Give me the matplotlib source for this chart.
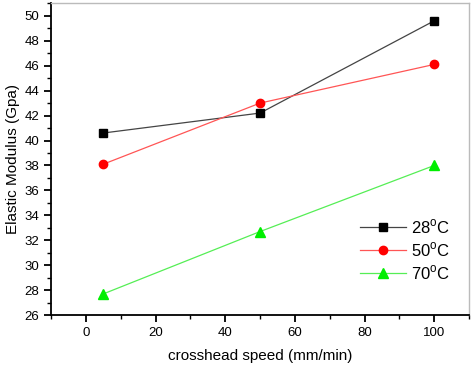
import matplotlib
matplotlib.use("Agg")
import matplotlib.pyplot as plt
from matplotlib.ticker import MultipleLocator

plt.rcParams['font.family'] = ['Liberation Sans', 'DejaVu Sans']
plt.rcParams['mathtext.fontset'] = 'custom'
plt.rcParams['mathtext.rm'] = 'Liberation Sans'

speed = [5, 50, 100]
e28 = [40.6, 42.2, 49.6]
e50 = [38.1, 43.0, 46.1]
e70 = [27.7, 32.7, 38.0]
labels = ['28$^{\\mathrm{o}}$C', '50$^{\\mathrm{o}}$C', '70$^{\\mathrm{o}}$C']

fig = plt.figure(figsize=(4.72, 3.66), dpi=100)
ax = fig.add_axes([0.108, 0.139, 0.886, 0.852])

ax.plot(speed, e28, color='#444444', lw=0.9, marker='s', ms=5.5, mfc='black', mec='black', label=labels[0])
ax.plot(speed, e50, color='#ff5555', lw=0.9, marker='o', ms=6, mfc='red', mec='red', label=labels[1])
ax.plot(speed, e70, color='#55ee55', lw=0.9, marker='^', ms=6.5, mfc='#00ee00', mec='#00ee00', label=labels[2])

ax.set_xlim(-10, 110)
ax.set_ylim(26, 51)
ax.xaxis.set_major_locator(MultipleLocator(20))
ax.xaxis.set_minor_locator(MultipleLocator(10))
ax.yaxis.set_major_locator(MultipleLocator(2))
ax.yaxis.set_minor_locator(MultipleLocator(1))
ax.tick_params(which='major', direction='out', length=5, width=1.3, labelsize=9.5)
ax.tick_params(which='minor', direction='out', length=3, width=1)
for s in ['left', 'bottom']:
    ax.spines[s].set_linewidth(1.3)
for s in ['top', 'right']:
    ax.spines[s].set_color('#bbbbbb')
    ax.spines[s].set_linewidth(1)

ax.set_xlabel('crosshead speed (mm/min)', fontsize=11, labelpad=7)
ax.set_ylabel('Elastic Modulus (Gpa)', fontsize=11, labelpad=3)

ax.legend(loc='lower right', bbox_to_anchor=(0.975, 0.08), frameon=False, fontsize=12,
          handlelength=2.8, handletextpad=0.3, labelspacing=0.25, borderpad=0)

fig.savefig('out.png', dpi=100)
